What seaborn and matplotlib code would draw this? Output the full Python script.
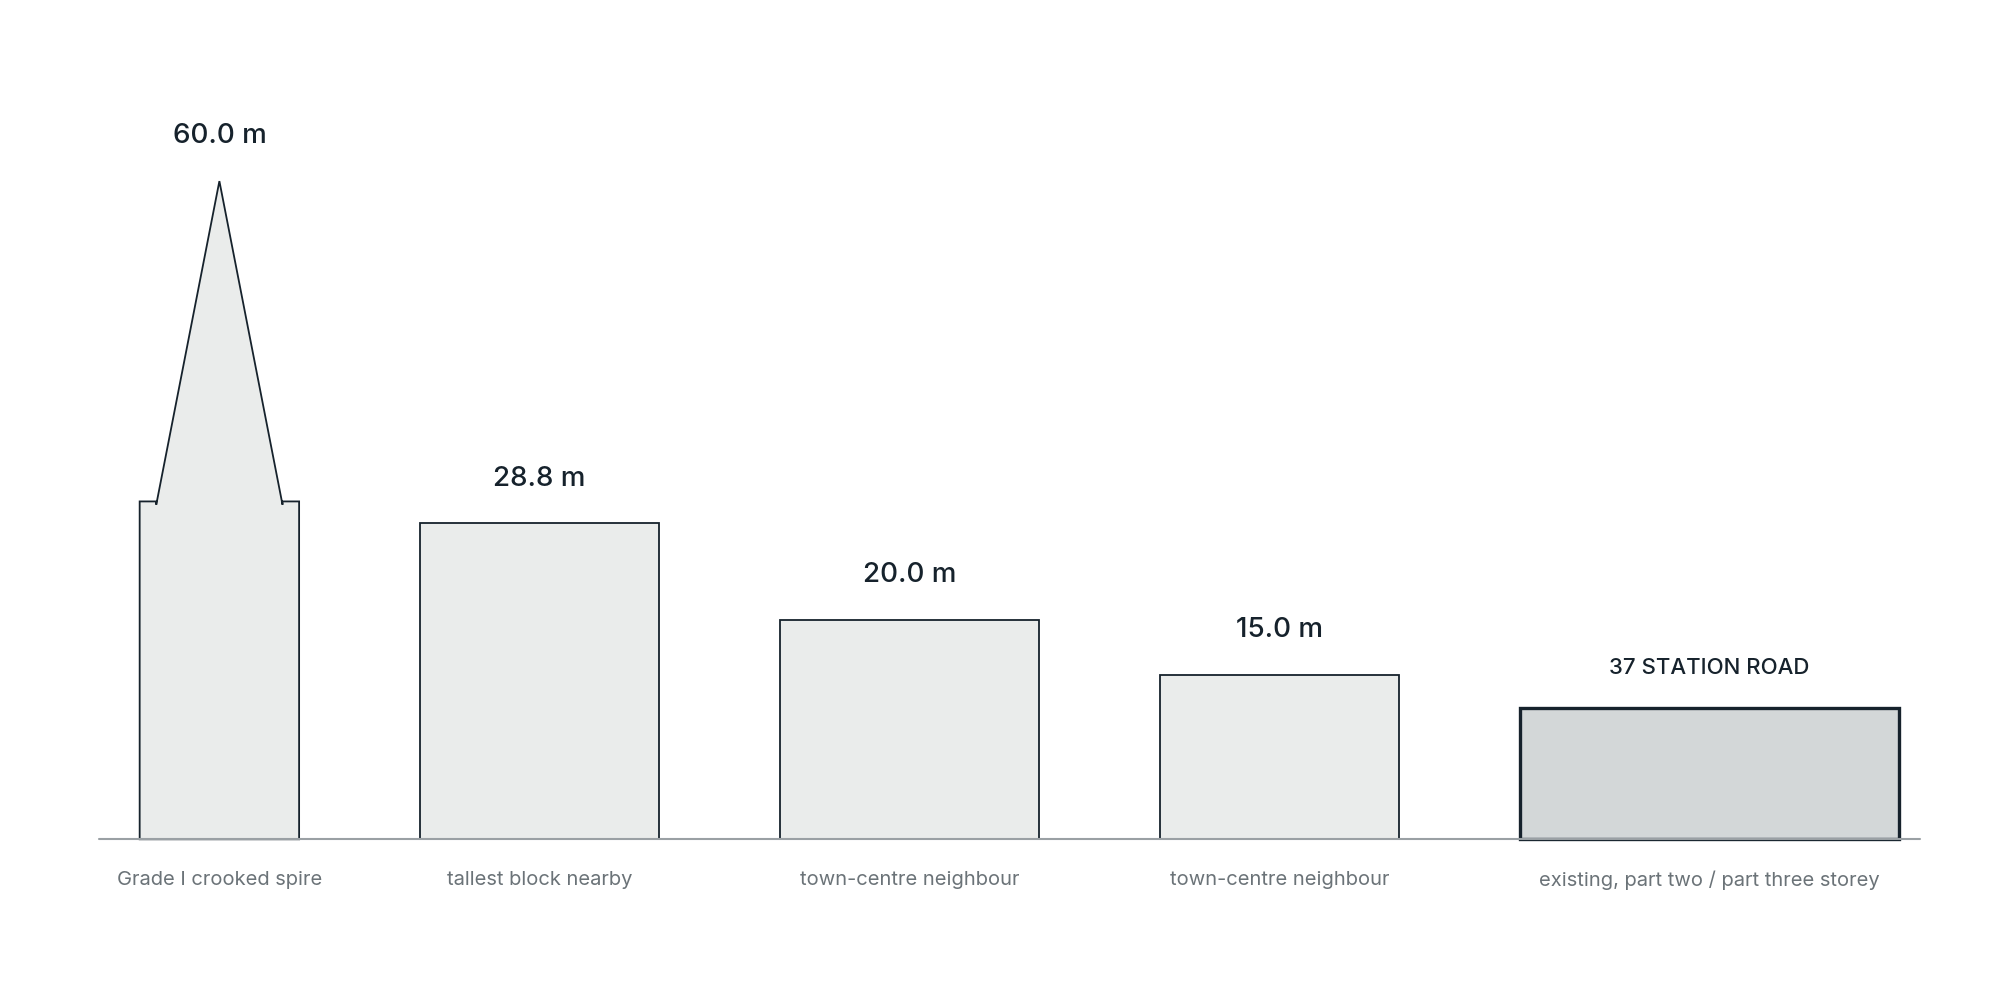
import matplotlib
matplotlib.use("Agg")
import matplotlib.pyplot as plt
import seaborn as sns

# data
names = ["Grade I crooked spire", "tallest block nearby", "town-centre neighbour",
         "town-centre neighbour", "existing, part two / part three storey"]
heights = [60.0, 28.8, 20.0, 15.0, 12.0]
top_labels = ["60.0 m", "28.8 m", "20.0 m", "15.0 m", "37 STATION ROAD"]
tower_height = 30.8  # spire's square tower below the steeple

# layout (x in px of a 1568-wide canvas)
centers = [172, 423, 713, 1003, 1340]
widths = [125, 187, 203, 187, 297]
PX_PER_M = 8.6

sns.set_theme(style="white")
plt.rcParams['font.family'] = ['Inter', 'DejaVu Sans']

fig = plt.figure(figsize=(20, 10), dpi=100)
ax = fig.add_axes([0, 0, 1, 1])
ax.set_xlim(0, 1568)
ax.set_ylim(-126 / PX_PER_M, 658 / PX_PER_M)
ax.axis("off")

dark = "#16222c"
fill = "#eaeceb"

for i, (c, w, h) in enumerate(zip(centers, widths, heights)):
    if i == 0:
        l, r = c - w / 2, c + w / 2
        inset = 13
        xs = [l, l, l + inset, l + inset, c, r - inset, r - inset, r, r]
        ys = [0, tower_height, tower_height, tower_height - 0.3, h,
              tower_height - 0.3, tower_height, tower_height, 0]
        ax.fill(xs, ys, facecolor=fill, edgecolor=dark, linewidth=1.3, zorder=2)
    elif i == len(heights) - 1:
        ax.bar(c, h, width=w, color="#d3d7d8", edgecolor=dark, linewidth=2.4, zorder=2)
    else:
        ax.bar(c, h, width=w, color=fill, edgecolor=dark, linewidth=1.3, zorder=2)

    if i == len(heights) - 1:
        ax.text(c, h + 31 / PX_PER_M, top_labels[i], ha="center", va="center",
                fontsize=16, color=dark, fontweight="medium")
    else:
        ax.text(c, h + 35 / PX_PER_M, top_labels[i], ha="center", va="center",
                fontsize=20, color=dark, fontweight="medium")
    ax.text(c, -32 / PX_PER_M, names[i], ha="center", va="center",
            fontsize=14.5, color="#6b7378")

ax.plot([78, 1505], [0, 0], color="#9aa0a4", linewidth=1.5, zorder=3)

fig.savefig("out.png", dpi=100)
